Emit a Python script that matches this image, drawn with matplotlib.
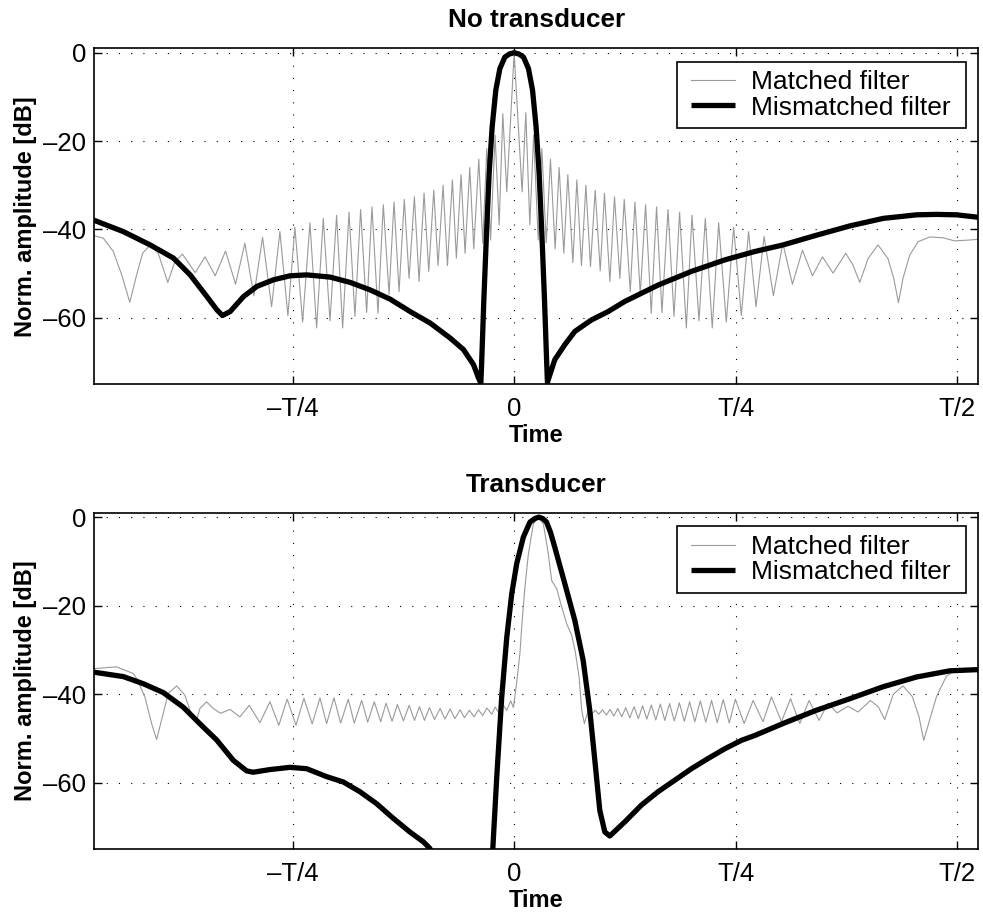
import matplotlib

matplotlib.use("Agg")
import matplotlib.pyplot as plt
from matplotlib.patches import Rectangle

plt.rcParams["font.family"] = ["Liberation Sans", "DejaVu Sans"]

# Time axis in units of the pulse length T, amplitude in dB (normalised)
TICK_POS = [-0.25, 0.0, 0.25, 0.5]
TICK_LABELS = ["\u2013T/4", "0", "T/4", "T/2"]
YTICK_POS = [-60, -40, -20, 0]
YTICK_LABELS = ["\u201360", "\u201340", "\u201320", "0"]

# --- No transducer -------------------------------------------------------
top_matched_t = [
    -0.4746, -0.4637, -0.4525, -0.4430, -0.4339, -0.4262, -0.4194, -0.4110,
    -0.4018, -0.3910, -0.3830, -0.3744, -0.3600, -0.3490, -0.3375, -0.3258,
    -0.3145, -0.3040, -0.2938, -0.2840, -0.2738, -0.2644, -0.2554, -0.2475,
    -0.2388, -0.2305, -0.2230, -0.2155, -0.2079, -0.2004, -0.1936, -0.1864,
    -0.1797, -0.1733, -0.1665, -0.1605, -0.1537, -0.1477, -0.1412, -0.1356,
    -0.1299, -0.1240, -0.1186, -0.1126, -0.1073, -0.1017, -0.0964, -0.0907,
    -0.0859, -0.0802, -0.0753, -0.0697, -0.0652, -0.0599, -0.0554, -0.0501,
    -0.0456, -0.0399, -0.0354, -0.0309, -0.0266, -0.0215, -0.0169, -0.0128,
    -0.0083, 0.0000,
    0.0090, 0.0132, 0.0177, 0.0220, 0.0272, 0.0313, 0.0362, 0.0410,
    0.0463, 0.0508, 0.0561, 0.0606, 0.0663, 0.0708, 0.0760, 0.0810,
    0.0862, 0.0915, 0.0972, 0.1020, 0.1081, 0.1133, 0.1194, 0.1243,
    0.1311, 0.1364, 0.1424, 0.1484, 0.1548, 0.1608, 0.1669, 0.1737,
    0.1805, 0.1868, 0.1944, 0.2008, 0.2087, 0.2158, 0.2237, 0.2309,
    0.2395, 0.2478, 0.2565, 0.2647, 0.2731, 0.2822, 0.2927, 0.3033,
    0.3142, 0.3255, 0.3368, 0.3481, 0.3600, 0.3744, 0.3826, 0.3902,
    0.3996, 0.4108, 0.4220, 0.4286, 0.4339, 0.4390, 0.4466, 0.4560,
    0.4692, 0.4842, 0.4974, 0.5143, 0.5256,
]
top_matched_db = [
    -41.4, -42.0, -45.0, -50.3, -56.5, -50.3, -45.4, -43.5,
    -45.4, -52.0, -47.3, -45.6, -49.8, -46.2, -50.5, -44.9,
    -52.4, -43.1, -55.0, -41.8, -57.5, -40.5, -59.5, -39.5,
    -61.0, -38.5, -62.3, -37.5, -60.7, -36.8, -62.3, -36.1,
    -59.7, -35.5, -58.8, -34.9, -59.0, -34.4, -54.7, -33.8,
    -54.1, -33.2, -51.1, -32.6, -51.8, -31.8, -49.5, -31.1,
    -48.2, -30.0, -48.2, -28.8, -46.5, -27.6, -45.4, -26.0,
    -44.4, -24.1, -43.1, -21.7, -42.4, -18.7, -39.0, -13.8,
    -31.5, 0.0,
    -31.5, -13.6, -39.0, -18.7, -42.4, -21.7, -43.1, -24.1,
    -44.4, -26.0, -45.4, -27.6, -47.5, -28.8, -48.2, -30.0,
    -48.4, -31.1, -49.4, -31.8, -51.8, -32.6, -51.1, -33.2,
    -54.1, -33.8, -54.7, -34.4, -59.0, -34.9, -58.8, -35.5,
    -59.7, -36.1, -62.3, -36.8, -60.7, -37.5, -62.3, -38.5,
    -61.0, -39.5, -59.5, -40.5, -57.5, -41.6, -55.0, -43.1,
    -52.4, -44.7, -50.5, -46.2, -49.9, -45.4, -48.1, -52.0,
    -46.6, -43.5, -46.6, -51.1, -56.6, -51.1, -45.8, -42.8,
    -41.7, -41.9, -42.6, -42.4, -42.2,
]

top_mismatched_t = [
    -0.4746, -0.4412, -0.4110, -0.3846, -0.3657, -0.3469, -0.3356, -0.3293,
    -0.3206, -0.3055, -0.2904, -0.2716, -0.2528, -0.2340, -0.2077, -0.1851,
    -0.1625, -0.1399, -0.1174, -0.0948, -0.0722, -0.0572, -0.0459, -0.0403,
    -0.0376, -0.0368, -0.0342, -0.0312, -0.0282, -0.0248, -0.0207, -0.0161,
    -0.0105, -0.0055, 0.0000, 0.0055, 0.0106, 0.0162, 0.0208, 0.0248,
    0.0282, 0.0313, 0.0343, 0.0369, 0.0376, 0.0459, 0.0572, 0.0685,
    0.0873, 0.1061, 0.1250, 0.1626, 0.2003, 0.2379, 0.2718, 0.3039,
    0.3416, 0.3792, 0.4168, 0.4544, 0.4770, 0.4996, 0.5260,
]
top_mismatched_db = [
    -37.9, -40.5, -43.5, -46.5, -50.3, -55.2, -58.2, -59.5,
    -58.6, -55.2, -52.9, -51.4, -50.5, -50.3, -50.8, -52.0,
    -53.7, -55.8, -58.6, -61.2, -64.6, -67.2, -70.6, -73.6,
    -74.8, -71.0, -56.0, -40.9, -27.3, -16.8, -8.5, -3.6,
    -1.0, -0.3, 0.0, -0.3, -1.0, -3.6, -8.5, -16.8,
    -27.3, -40.9, -56.0, -71.0, -74.6, -69.5, -66.1, -63.1,
    -60.5, -58.6, -56.3, -52.6, -49.5, -46.9, -45.0, -43.5,
    -41.3, -39.2, -37.5, -36.7, -36.6, -36.7, -37.3,
]

# --- Transducer ------------------------------------------------------------
bot_matched_t = [
    -0.4746, -0.4489, -0.4301, -0.4262, -0.4168, -0.4093, -0.4036, -0.3980,
    -0.3905, -0.3810, -0.3717, -0.3660, -0.3593, -0.3547, -0.3472, -0.3397,
    -0.3314, -0.3209, -0.3096, -0.2991, -0.2870, -0.2757, -0.2656, -0.2562,
    -0.2463, -0.2373, -0.2280, -0.2192, -0.2117, -0.2034, -0.1958, -0.1873,
    -0.1805, -0.1721, -0.1653, -0.1579, -0.1506, -0.1446, -0.1378, -0.1318,
    -0.1250, -0.1185, -0.1125, -0.1069, -0.1012, -0.0956, -0.0899, -0.0835,
    -0.0782, -0.0722, -0.0669, -0.0609, -0.0561, -0.0505, -0.0452, -0.0403,
    -0.0354, -0.0308, -0.0252, -0.0214, -0.0166, -0.0121, -0.0083, -0.0038,
    -0.0008, 0.0027, 0.0065, 0.0091, 0.0121, 0.0161, 0.0217, 0.0273,
    0.0330, 0.0386, 0.0424, 0.0481, 0.0537, 0.0594, 0.0650, 0.0688,
    0.0733, 0.0763, 0.0793, 0.0840, 0.0877, 0.0917, 0.0956, 0.0998,
    0.1041, 0.1083, 0.1125, 0.1170, 0.1215, 0.1260, 0.1306, 0.1354,
    0.1402, 0.1450, 0.1498, 0.1549, 0.1599, 0.1650, 0.1701, 0.1755,
    0.1808, 0.1865, 0.1921, 0.1981, 0.2040, 0.2102, 0.2164, 0.2229,
    0.2293, 0.2361, 0.2429, 0.2497, 0.2597, 0.2698, 0.2810, 0.2905,
    0.3018, 0.3120, 0.3225, 0.3330, 0.3442, 0.3544, 0.3646, 0.3770,
    0.3883, 0.4022, 0.4110, 0.4184, 0.4280, 0.4390, 0.4495, 0.4570,
    0.4624, 0.4767, 0.4880, 0.4970, 0.5068, 0.5270,
]
bot_matched_db = [
    -34.2, -33.8, -35.3, -36.4, -40.6, -46.6, -50.2, -45.8,
    -39.8, -38.1, -40.2, -43.6, -46.4, -43.2, -41.7, -43.2,
    -44.3, -43.4, -45.1, -42.5, -46.4, -41.7, -47.0, -41.1,
    -47.0, -40.9, -46.7, -40.8, -46.6, -40.8, -46.5, -41.1,
    -46.5, -41.4, -46.3, -41.7, -46.2, -42.0, -46.1, -42.3,
    -46.0, -42.5, -45.9, -42.8, -45.9, -43.0, -45.7, -43.2,
    -45.6, -43.3, -45.5, -43.5, -45.3, -43.6, -45.1, -43.5,
    -44.8, -43.1, -44.5, -42.9, -44.4, -42.5, -43.6, -41.5,
    -43.0, -37.6, -30.8, -23.3, -16.0, -8.3, -1.5, 0.0,
    -1.5, -8.3, -14.3, -16.2, -20.3, -24.1, -26.7, -30.1,
    -36.1, -43.6, -46.6, -43.4, -44.4, -43.6, -44.5, -43.5,
    -44.7, -43.4, -44.9, -43.2, -45.1, -43.0, -45.3, -42.8,
    -45.5, -42.6, -45.6, -42.4, -45.8, -42.2, -45.9, -42.1,
    -46.0, -41.9, -46.1, -41.7, -46.2, -41.5, -46.3, -41.4,
    -46.4, -41.2, -46.5, -41.1, -46.6, -41.4, -46.2, -40.6,
    -46.2, -41.0, -46.6, -41.4, -45.9, -42.0, -44.2, -42.7,
    -44.0, -41.4, -42.8, -45.7, -40.0, -38.1, -40.5, -45.0,
    -50.4, -40.6, -35.9, -34.8, -34.4, -34.3,
]

bot_mismatched_t = [
    -0.4746, -0.4413, -0.4188, -0.3962, -0.3736, -0.3510, -0.3359, -0.3171,
    -0.3020, -0.2946, -0.2757, -0.2532, -0.2343, -0.2192, -0.2117, -0.1929,
    -0.1741, -0.1553, -0.1365, -0.1177, -0.1026, -0.0951, -0.0900, -0.0300,
    -0.0241, -0.0196, -0.0140, -0.0083, -0.0027, 0.0029, 0.0104, 0.0179,
    0.0235, 0.0279, 0.0322, 0.0366, 0.0412, 0.0459, 0.0572, 0.0685,
    0.0779, 0.0854, 0.0911, 0.0967, 0.1024, 0.1080, 0.1250, 0.1438,
    0.1625, 0.1814, 0.2002, 0.2190, 0.2378, 0.2566, 0.2717, 0.3036,
    0.3413, 0.3790, 0.4165, 0.4542, 0.4918, 0.5270,
]
bot_mismatched_db = [
    -35.0, -36.0, -37.6, -39.6, -42.9, -47.4, -50.3, -54.9,
    -57.3, -57.6, -57.0, -56.5, -56.8, -58.0, -58.6, -59.8,
    -62.0, -64.7, -68.0, -71.1, -73.3, -74.8, -78.0, -78.0,
    -75.0, -58.6, -40.6, -27.1, -17.3, -10.5, -4.5, -1.1,
    -0.3, 0.0, -0.3, -1.1, -3.5, -6.8, -15.0, -23.3,
    -32.3, -43.6, -54.9, -66.2, -71.1, -72.0, -68.8, -65.0,
    -62.0, -59.4, -56.8, -54.5, -52.3, -50.4, -49.3, -46.6,
    -43.6, -41.0, -38.3, -36.1, -34.7, -34.4,
]

# legend box in axes fractions: x0, y0, width, height
LEGEND_BOX = (0.6588, 0.7617, 0.3269, 0.1984)


def draw_panel(ax, title, t_m, db_m, t_mm, db_mm):
    ax.plot(t_m, db_m, color="#9a9a9a", lw=0.8, label="Matched filter")
    ax.plot(t_mm, db_mm, color="black", lw=3.8, label="Mismatched filter",
            solid_joinstyle="round", solid_capstyle="butt")
    ax.set_xlim(-0.474, 0.524)
    ax.set_ylim(-75, 1)
    ax.set_xticks(TICK_POS)
    ax.set_xticklabels(TICK_LABELS)
    ax.set_yticks(YTICK_POS)
    ax.set_yticklabels(YTICK_LABELS)
    ax.grid(True, color="black", linestyle=(0, (1, 10)), lw=0.8)
    ax.tick_params(direction="in", top=True, right=True, length=5.5,
                   width=1.0, labelsize=18.5, pad=9)
    ax.tick_params(axis="y", pad=6)
    for sp in ax.spines.values():
        sp.set_linewidth(1.2)
    ax.set_title(title, fontsize=18.8, fontweight="bold", pad=15)
    ax.set_xlabel("Time", fontsize=17, fontweight="bold", labelpad=2.5)
    ax.set_ylabel("Norm. amplitude [dB]", fontsize=17, fontweight="bold",
                  labelpad=4)

    x0, y0, w, h = LEGEND_BOX
    ax.add_patch(Rectangle((x0, y0), w, h, transform=ax.transAxes,
                           facecolor="white", edgecolor="black", lw=1.2,
                           zorder=4.5))
    ax.legend(loc="center", bbox_to_anchor=(x0 + w / 2, y0 + h / 2),
              fontsize=19, frameon=False, handlelength=1.67,
              handletextpad=0.6, borderpad=0.0, labelspacing=0.05,
              borderaxespad=0)


def main() -> None:
    fig = plt.figure(figsize=(9.83, 9.13), dpi=100)
    ax_top = fig.add_axes([0.0959, 0.5794, 0.8993, 0.3677])
    ax_bot = fig.add_axes([0.0959, 0.0698, 0.8993, 0.3686])

    draw_panel(ax_top, "No transducer", top_matched_t, top_matched_db,
               top_mismatched_t, top_mismatched_db)
    draw_panel(ax_bot, "Transducer", bot_matched_t, bot_matched_db,
               bot_mismatched_t, bot_mismatched_db)

    fig.savefig("out.png", dpi=100)
    plt.close(fig)


if __name__ == "__main__":
    main()
